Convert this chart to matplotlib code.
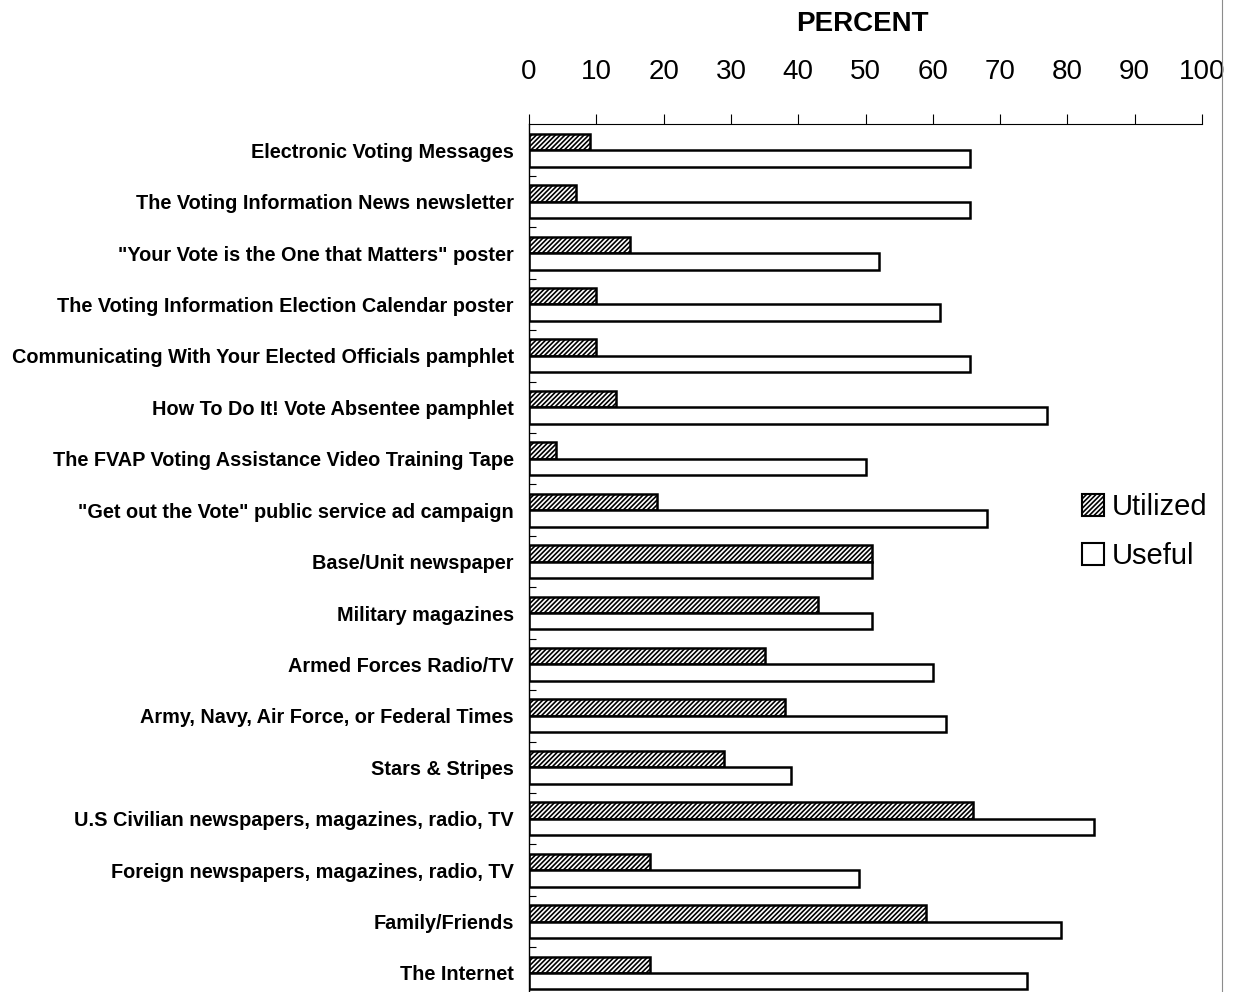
import matplotlib
matplotlib.use("Agg")
import matplotlib.pyplot as plt
from matplotlib.patches import Patch
from matplotlib.lines import Line2D

categories = [
    "Electronic Voting Messages",
    "The Voting Information News newsletter",
    "\"Your Vote is the One that Matters\" poster",
    "The Voting Information Election Calendar poster",
    "Communicating With Your Elected Officials pamphlet",
    "How To Do It! Vote Absentee pamphlet",
    "The FVAP Voting Assistance Video Training Tape",
    "\"Get out the Vote\" public service ad campaign",
    "Base/Unit newspaper",
    "Military magazines",
    "Armed Forces Radio/TV",
    "Army, Navy, Air Force, or Federal Times",
    "Stars & Stripes",
    "U.S Civilian newspapers, magazines, radio, TV",
    "Foreign newspapers, magazines, radio, TV",
    "Family/Friends",
    "The Internet",
]
utilized = [9, 7, 15, 10, 10, 13, 4, 19, 51, 43, 35, 38, 29, 66, 18, 59, 18]
useful = [65.5, 65.5, 52, 61, 65.5, 77, 50, 68, 51, 51, 60, 62, 39, 84, 49, 79, 74]
xticks = [0, 10, 20, 30, 40, 50, 60, 70, 80, 90, 100]

FONT = ["Liberation Sans", "DejaVu Sans"]
W, H = 1238, 992
fig = plt.figure(figsize=(W / 100, H / 100), dpi=100)
ax = fig.add_axes([529 / W, 0.0, (1202 - 529) / W, 1 - 124 / H])

bh = 0.32
ys = list(range(len(categories)))
plt.rcParams['hatch.linewidth'] = 1.2
ax.barh([y - bh / 2 for y in ys], utilized, height=bh, color="white",
        edgecolor="black", hatch="///////", linewidth=1.8)
ax.barh([y + bh / 2 for y in ys], useful, height=bh, color="white",
        edgecolor="black", linewidth=1.8)

ax.set_xlim(0, 100)
ax.set_ylim(16.37, -0.51)
ax.xaxis.tick_top()
ax.set_xticks(xticks)
ax.set_xticklabels([str(t) for t in xticks], family=FONT, fontsize=20)
ax.tick_params(axis="x", direction="out", length=7, width=0.8, pad=21)
ax.set_yticks(ys)
ax.set_yticklabels(categories, fontsize=14.3, fontweight="bold", family=FONT)
ax.tick_params(axis="y", which="major", length=0, pad=11)
ax.set_yticks([y + 0.5 for y in ys[:-1]], minor=True)
ax.tick_params(axis="y", which="minor", direction="in", length=5, width=0.8)
for s in ["right", "bottom"]:
    ax.spines[s].set_visible(False)
ax.spines["top"].set_linewidth(0.8)
ax.spines["left"].set_linewidth(1.0)

fig.text(862 / W, 1 - 24 / H, "PERCENT", ha="center", va="center",
         fontsize=20, fontweight="bold", family=FONT)

handles = [Patch(facecolor="white", edgecolor="black", hatch="///////", linewidth=1.5, label="Utilized"),
           Patch(facecolor="white", edgecolor="black", linewidth=1.5, label="Useful")]
fig.legend(handles=handles, loc="upper left", bbox_to_anchor=(1056 / W, 1 - 467 / H),
           frameon=False, handlelength=0.75, handleheight=0.75,
           handletextpad=0.25, labelspacing=0.72,
           prop={"family": FONT, "size": 21})

fig.add_artist(Line2D([1222 / W, 1222 / W], [0, 1], color="0.55", linewidth=0.8))

fig.savefig("out.png", dpi=100)
